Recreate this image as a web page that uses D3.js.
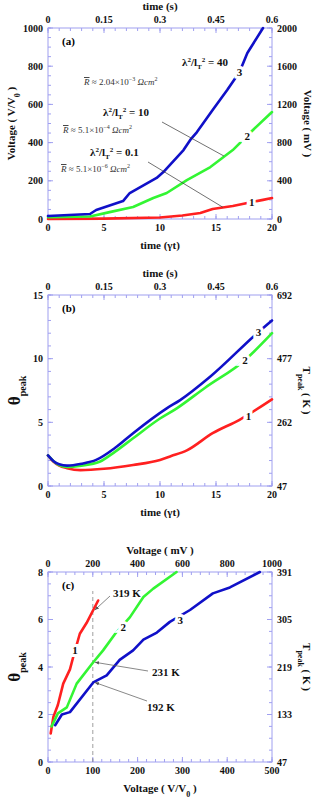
<!DOCTYPE html>
<html><head><meta charset="utf-8">
<script src="https://cdn.jsdelivr.net/npm/d3@7/dist/d3.min.js"></script>
<style>
body{margin:0;background:#fff;}
svg text{font-family:"Liberation Serif","Times New Roman",serif;}
</style></head>
<body><svg id="c" width="313" height="799"></svg>
<script>
// ---------- DATA ----------
// Panel (a): Voltage (V/V0) vs time (γt)
const a_t1 = [0, 5, 10, 12, 13.6, 14.7, 16.5, 17.8, 19.2, 20];
const a_v1 = [0, 2, 8, 18, 31, 52, 68, 84, 100, 110];
const a_t2 = [0, 3.75, 5.5, 7.6, 9.4, 10.6, 12.4, 14.5, 16.5, 18.3, 20];
const a_v2 = [10, 13, 36, 63, 110, 136, 204, 272, 361, 466, 560];
const a_t3 = [0, 3.75, 4.3, 6.7, 7.3, 9.7, 10.3, 12.1, 12.7, 13.3, 14.7, 16.0, 17.1, 17.8, 19.2];
const a_v3 = [16, 26, 47, 94, 136, 215, 246, 361, 414, 455, 571, 675, 770, 869, 1000];
// Panel (b): theta_peak vs time (γt)
const b_t1 = [0, 0.5, 1, 1.7, 2.9, 5, 7.6, 10, 11, 12.4, 14.7, 17.1, 20];
const b_th1 = [2.4, 1.9, 1.6, 1.4, 1.25, 1.35, 1.65, 2.05, 2.35, 2.8, 4.15, 5.2, 6.8];
const b_t2 = [0, 0.5, 1, 1.7, 3, 4.6, 6, 7.6, 10, 11.5, 14, 17.6, 20];
const b_th2 = [2.4, 1.95, 1.65, 1.5, 1.6, 1.9, 2.7, 3.75, 5.3, 6.1, 7.7, 9.9, 12.0];
const b_t3 = [0, 0.5, 1, 1.7, 3, 4.3, 6, 7.6, 10.6, 11.8, 14.5, 18.8, 20];
const b_th3 = [2.4, 1.95, 1.7, 1.6, 1.75, 2.05, 3.0, 4.15, 6.1, 6.75, 8.6, 12.1, 13.0];
// Panel (c): theta_peak vs Voltage (V/V0)
const c_v1 = [6, 12, 22, 34, 49, 56, 71, 86, 101, 112];
const c_th1 = [1.2, 1.9, 2.4, 3.3, 3.9, 4.4, 5.4, 5.85, 6.4, 6.8];
const c_v2 = [8, 22, 42, 64, 101, 123, 150, 183, 213, 235, 287];
const c_th2 = [1.5, 2.05, 2.3, 3.3, 4.2, 4.7, 5.4, 6.1, 6.95, 7.3, 8.0];
const c_v3 = [16, 31, 49, 101, 131, 160, 190, 213, 243, 272, 317, 368, 406, 473];
const c_th3 = [1.55, 2.0, 2.1, 3.35, 3.65, 4.3, 4.7, 5.15, 5.45, 5.9, 6.4, 7.1, 7.35, 8.0];
// Tick values
const tGammaTicks = [0, 5, 10, 15, 20];
const tSecTicks = [0, 0.15, 0.3, 0.45, 0.6];
const a_leftTicks = [0, 200, 400, 600, 800, 1000];
const a_rightTicks = [0, 400, 800, 1200, 1600, 2000];
const b_leftTicks = [0, 5, 10, 15];
const b_rightTicks = [47, 262, 477, 692];
const c_bottomTicks = [0, 100, 200, 300, 400, 500];
const c_topTicks = [0, 200, 400, 600, 800, 1000];
const c_leftTicks = [0, 2, 4, 6, 8];
const c_rightTicks = [47, 133, 219, 305, 391];
const annot_c = [{v:100, th:6.4, label:"319 K"}, {v:100, th:4.2, label:"231 K"}, {v:100, th:3.35, label:"192 K"}];

// ---------- STYLE ----------
const RED = "#ff2020", GREEN = "#33f533", BLUE = "#1010c8", AX = "#a0a0f0";
const svg = d3.select("#c");
const L = 48, R = 272;

function panel(o){
  const g = svg.append("g");
  const x = d3.scaleLinear().domain(o.xd).range([L, R]);
  const xt = d3.scaleLinear().domain(o.xtd).range([L, R]);
  const y = d3.scaleLinear().domain(o.yd).range([o.bot, o.top]);
  const yr = d3.scaleLinear().domain(o.yrd).range([o.bot, o.top]);
  g.append("rect").attr("x", L).attr("y", o.top).attr("width", R-L).attr("height", o.bot-o.top)
    .attr("fill", "none").attr("stroke", AX).attr("stroke-width", 1);
  const tk = (sc, vals, orient, len) => {
    vals.forEach(v => {
      const p = sc(v);
      if (orient === "b") g.append("line").attr("x1", p).attr("x2", p).attr("y1", o.bot).attr("y2", o.bot-len);
      if (orient === "t") g.append("line").attr("x1", p).attr("x2", p).attr("y1", o.top).attr("y2", o.top+len);
      if (orient === "l") g.append("line").attr("y1", p).attr("y2", p).attr("x1", L).attr("x2", L+len);
      if (orient === "r") g.append("line").attr("y1", p).attr("y2", p).attr("x1", R).attr("x2", R-len);
    });
  };
  g.attr("stroke", AX);
  tk(x, d3.range(o.xd[0], o.xd[1]+1e-9, o.xminor), "b", 3);
  tk(xt, d3.range(o.xtd[0], o.xtd[1]+1e-9, o.xtminor), "t", 3);
  tk(y, d3.range(o.yd[0], o.yd[1]+1e-9, o.yminor), "l", 3);
  tk(y, d3.range(o.yd[0], o.yd[1]+1e-9, o.yminor), "r", 3);
  tk(x, o.xticks, "b", 5); tk(xt, o.xtticks, "t", 5);
  tk(y, o.yticks, "l", 5); tk(yr, o.yrticks, "r", 5);
  const lab = svg.append("g").attr("font-weight", "bold").attr("font-size", 10).attr("fill", "#111");
  o.xticks.forEach(v => lab.append("text").attr("x", x(v)).attr("y", o.bot+12).attr("text-anchor", "middle").text(v));
  o.xtticks.forEach(v => lab.append("text").attr("x", xt(v)).attr("y", o.top-5).attr("text-anchor", "middle").text(v));
  o.yticks.forEach(v => lab.append("text").attr("x", L-5).attr("y", y(v)+3.5).attr("text-anchor", "end").text(v));
  o.yrticks.forEach(v => lab.append("text").attr("x", R+5).attr("y", yr(v)+3.5).attr("text-anchor", "start").text(v));
  const tt = svg.append("g").attr("font-weight", "bold").attr("fill", "#111");
  tt.append("text").attr("x", (L+R)/2).attr("y", o.bot+30).attr("text-anchor", "middle").attr("font-size", 11).html(o.xlabel);
  tt.append("text").attr("x", (L+R)/2).attr("y", o.top-18).attr("text-anchor", "middle").attr("font-size", 11).html(o.xtlabel);
  const my = (o.top+o.bot)/2;
  tt.append("text").attr("transform", `translate(${o.ylx},${my}) rotate(-90)`).attr("text-anchor", "middle").attr("font-size", o.ylsize||11).html(o.ylabel);
  tt.append("text").attr("transform", `translate(${o.yrx},${my}) rotate(90)`).attr("text-anchor", "middle").attr("font-size", 11).html(o.yrlabel);
  svg.append("text").attr("x", L+14).attr("y", o.top+17).attr("font-weight", "bold").attr("font-size", 11).text(o.tag);
  return {x, y, g};
}

function curve(p, xs, ys, color, curveType){
  const line = d3.line().x((d,i)=>p.x(xs[i])).y((d,i)=>p.y(ys[i])).curve(curveType||d3.curveLinear);
  svg.append("path").datum(xs).attr("d", line).attr("fill", "none").attr("stroke", color)
    .attr("stroke-width", 2.6).attr("stroke-linejoin", "round").attr("stroke-linecap", "round");
}
function clabel(p, xv, yv, txt){
  svg.append("text").attr("x", p.x(xv)).attr("y", p.y(yv)+4).attr("text-anchor", "middle")
    .attr("font-weight", "bold").attr("font-size", 11).attr("fill", "#111")
    .attr("stroke", "#fff").attr("stroke-width", 6).attr("paint-order", "stroke").text(txt);
}

// ---------- PANEL A ----------
const pa = panel({top:28, bot:219, xd:[0,20], xtd:[0,0.6], yd:[0,1000], yrd:[0,2000],
  xminor:1, xtminor:0.03, yminor:50, xticks:tGammaTicks, xtticks:tSecTicks, yticks:a_leftTicks, yrticks:a_rightTicks,
  xlabel:"time (γt)", xtlabel:"time (s)", ylabel:'Voltage ( V/V<tspan baseline-shift="sub" font-size="8">0</tspan> )',
  yrlabel:"Voltage ( mV )", ylx:15, yrx:304, tag:"(a)"});
curve(pa, a_t1, a_v1, RED);
curve(pa, a_t2, a_v2, GREEN);
curve(pa, a_t3, a_v3, BLUE);
clabel(pa, 18.2, 89, "1");
clabel(pa, 17.8, 437, "2");
clabel(pa, 17.1, 770, "3");

function lamText(x, y, val){
  svg.append("text").attr("x", x).attr("y", y).attr("font-weight", "bold").attr("font-size", 11).attr("fill", "#111")
    .html(`λ<tspan dy="-4" font-size="7">2</tspan><tspan dy="4">/l</tspan><tspan dy="3" font-size="7">T</tspan><tspan dy="-7" font-size="7">2</tspan><tspan dy="4"> = ${val}</tspan>`);
}
function rText(x, y, mant, exp){
  svg.append("text").attr("x", x).attr("y", y).attr("font-size", 9).attr("fill", "#333")
    .html(`<tspan font-style="italic" style="text-decoration:overline">R</tspan> ≈ ${mant}×10<tspan dy="-4" font-size="6">−${exp}</tspan><tspan dy="4" font-style="italic"> Ωcm</tspan><tspan dy="-4" font-size="6">2</tspan>`);
}
lamText(182, 66, "40"); rText(84, 85, "2.04", "3");
lamText(103, 116, "10"); rText(63, 133, "5.1", "4");
lamText(90, 156, "0.1"); rText(61, 172, "5.1", "6");
svg.append("line").attr("x1", 162).attr("y1", 122).attr("x2", pa.x(15.7)).attr("y2", pa.y(330)).attr("stroke", "#333").attr("stroke-width", 0.7);
svg.append("line").attr("x1", 148).attr("y1", 162).attr("x2", pa.x(15.6)).attr("y2", pa.y(62)).attr("stroke", "#333").attr("stroke-width", 0.7);

// ---------- PANEL B ----------
const pb = panel({top:295, bot:486, xd:[0,20], xtd:[0,0.6], yd:[0,15], yrd:[47,692],
  xminor:1, xtminor:0.03, yminor:1, xticks:tGammaTicks, xtticks:tSecTicks, yticks:b_leftTicks, yrticks:b_rightTicks,
  xlabel:"time (γt)", xtlabel:"time (s)", ylabel:'θ<tspan baseline-shift="sub" font-size="10">peak</tspan>', ylsize:17,
  yrlabel:'T<tspan baseline-shift="sub" font-size="8">peak</tspan> ( K )', ylx:20, yrx:303, tag:"(b)"});
curve(pb, b_t1, b_th1, RED, d3.curveMonotoneX);
curve(pb, b_t2, b_th2, GREEN, d3.curveMonotoneX);
curve(pb, b_t3, b_th3, BLUE, d3.curveMonotoneX);
clabel(pb, 17.9, 5.5, "1");
clabel(pb, 17.6, 9.9, "2");
clabel(pb, 18.8, 12.1, "3");

// ---------- PANEL C ----------
const pc = panel({top:572, bot:762, xd:[0,500], xtd:[0,1000], yd:[0,8], yrd:[47,391],
  xminor:20, xtminor:40, yminor:0.5, xticks:c_bottomTicks, xtticks:c_topTicks, yticks:c_leftTicks, yrticks:c_rightTicks,
  xlabel:'Voltage ( V/V<tspan baseline-shift="sub" font-size="8">0</tspan> )', xtlabel:"Voltage ( mV )",
  ylabel:'θ<tspan baseline-shift="sub" font-size="10">peak</tspan>', ylsize:17,
  yrlabel:'T<tspan baseline-shift="sub" font-size="8">peak</tspan> ( K )', ylx:20, yrx:303, tag:"(c)"});
svg.append("line").attr("x1", pc.x(100)).attr("x2", pc.x(100)).attr("y1", pc.y(0)).attr("y2", pc.y(7.2))
  .attr("stroke", "#888").attr("stroke-width", 0.8).attr("stroke-dasharray", "4,3");
curve(pc, c_v1, c_th1, RED);
curve(pc, c_v2, c_th2, GREEN);
curve(pc, c_v3, c_th3, BLUE);
clabel(pc, 60, 4.7, "1");
clabel(pc, 168, 5.7, "2");
clabel(pc, 295, 6.0, "3");
svg.append("defs").append("marker").attr("id", "ah").attr("viewBox", "0 0 10 10").attr("refX", 10).attr("refY", 5)
  .attr("markerWidth", 6).attr("markerHeight", 6).attr("orient", "auto")
  .append("path").attr("d", "M0,1 L10,5 L0,9 z").attr("fill", "#555");
const annPos = [[113, 597, 110, 596], [152, 676, 148, 671], [147, 711, 147, 701]];
annot_c.forEach((a, i) => {
  const [tx, ty, lx, ly] = annPos[i];
  svg.append("line").attr("x1", lx).attr("y1", ly).attr("x2", pc.x(a.v)+2).attr("y2", pc.y(a.th))
    .attr("stroke", "#555").attr("stroke-width", 0.7).attr("marker-end", "url(#ah)");
  svg.append("text").attr("x", tx).attr("y", ty).attr("font-weight", "bold").attr("font-size", 11).attr("fill", "#111").text(a.label);
});
</script></body></html>
